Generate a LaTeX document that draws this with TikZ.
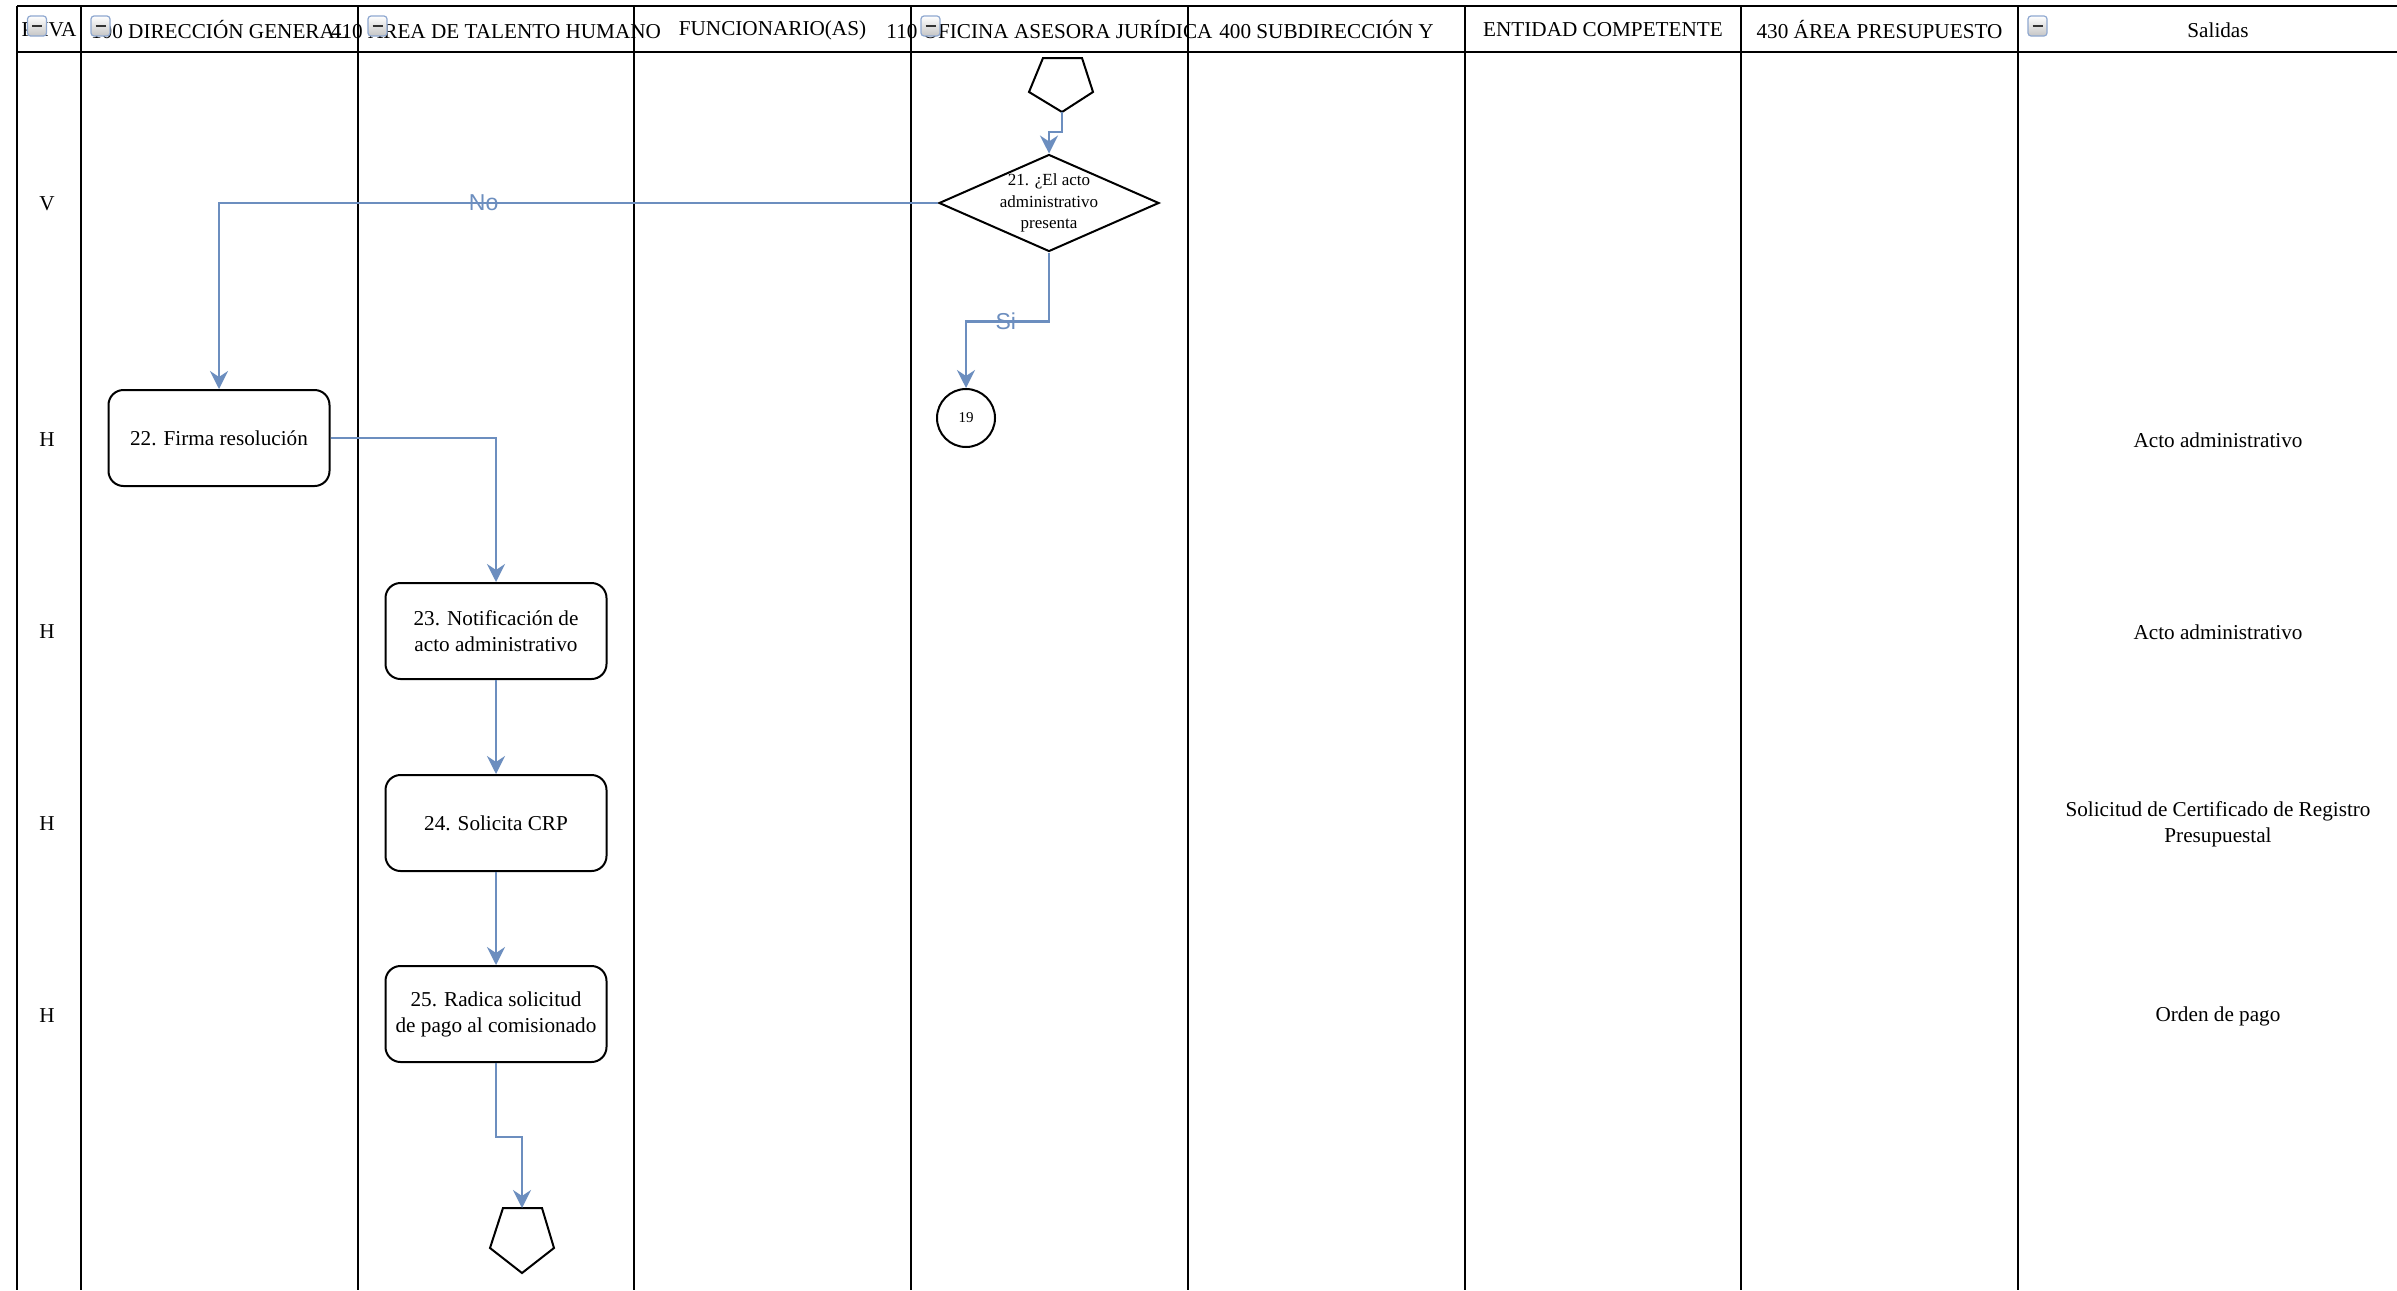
\documentclass[tikz,border=0pt]{standalone}
\usepackage{fontspec}
\setmainfont{Liberation Serif}
\newfontfamily\lblfont{Liberation Sans}
\usetikzlibrary{shapes.geometric,arrows.meta,calc}
\definecolor{connblue}{HTML}{6C8EBF}
\definecolor{iconblue}{HTML}{8FA8D0}
\begin{document}
\begin{tikzpicture}[x=0.5pt,y=-0.5pt,
  lane/.style={line width=1.4pt},
  thinlane/.style={line width=0.8pt},
  hline/.style={line width=1.2pt},
  hdr/.style={font=\fontsize{10.6}{12}\selectfont, inner sep=0},
  txt/.style={font=\fontsize{10.6}{13}\selectfont, inner sep=0, align=center},
  stepbox/.style={draw, line width=1pt, rounded corners=7.5pt, minimum width=110.5pt, minimum height=48pt, align=center, font=\fontsize{10.6}{13}\selectfont, inner sep=2pt},
  conn/.style={draw=connblue, line width=1.2pt, -{Stealth[length=9pt,width=9pt,inset=3pt]}},
  lbl/.style={font=\lblfont\fontsize{11.5}{13}\selectfont, text=connblue, inner sep=0},
  minusicon/.pic={
    \draw[draw=iconblue, line width=0.6pt, top color=white, bottom color=gray!45, rounded corners=1.5pt] (-9.5,-10) rectangle (9.5,10);
    \draw[line width=1.4pt, black!80] (-5,0) -- (5,0);
  }
]
\useasboundingbox (0,0) rectangle (2397,1290);
\fill[white] (0,0) rectangle (2397,1290);

% lane lines
\draw[thinlane] (17,6) -- (17,1290);
\draw[thinlane] (81,6) -- (81,1290);
\foreach \xx in {358,634,911,1188,1465,1741,2018}{
  \draw[lane] (\xx,6) -- (\xx,1290);
}
\draw[hline] (17,6) -- (2397,6);
\draw[hline] (17,52) -- (2397,52);

% header texts
\node[hdr] (h1) at (49,30) {PHVA};
\node[hdr] (h2) at (219.5,30) {100 DIRECCIÓN GENERAL};
\node[hdr] (h3) at (496,30) {410 ÁREA DE TALENTO HUMANO};
\node[hdr] (h4) at (772.5,30) {FUNCIONARIO(AS)};
\node[hdr] (h5) at (1049.5,30) {110 OFICINA ASESORA JURÍDICA};
\node[hdr] (h6) at (1326.5,30) {400 SUBDIRECCIÓN Y};
\node[hdr] (h7) at (1603,30) {ENTIDAD COMPETENTE};
\node[hdr] (h8) at (1879.5,30) {430 ÁREA PRESUPUESTO};
\node[hdr] (h9) at (2218,30) {Salidas};

% collapse icons
\pic at (37,26) {minusicon};
\pic at (100.5,26) {minusicon};
\pic at (377.5,26) {minusicon};
\pic at (930.5,26) {minusicon};
\pic at (2037.5,26) {minusicon};

% row labels
\node[txt] (r1) at (47,204) {V};
\node[txt] (r2) at (47,440) {H};
\node[txt] (r3) at (47,632) {H};
\node[txt] (r4) at (47,824) {H};
\node[txt] (r5) at (47,1016) {H};

% pentagons (off-page connectors)
\draw[line width=1pt, line join=miter] (1043,58) -- (1082,58) -- (1093,92) -- (1062,112) -- (1029,92) -- cycle;
\coordinate (p1tip) at (1062,112);
\draw[line width=1pt, line join=miter] (503,1208) -- (542,1208) -- (554,1248) -- (522,1273) -- (490,1248) -- cycle;
\coordinate (p2top) at (522,1208);

% decision
\node[diamond, draw, line width=1pt, minimum width=110pt, minimum height=48.5pt, inner sep=0] (d21) at (1049,203) {};
\node[font=\fontsize{8.5}{10.7}\selectfont, align=center, inner sep=0] (d21t) at (d21.center) {21. ¿El acto\\administrativo\\presenta};

% connector circle
\node[circle, draw, line width=1pt, minimum size=29pt, inner sep=0, font=\fontsize{7.5}{9}\selectfont] (c19) at (966,418) {19};

% process boxes
\node[stepbox] (n22) at (219,438) {22. Firma resolución};
\node[stepbox] (n23) at (496,631) {23. Notificación de\\acto administrativo};
\node[stepbox] (n24) at (496,823) {24. Solicita CRP};
\node[stepbox] (n25) at (496,1014) {25. Radica solicitud\\de pago al comisionado};

% outputs
\node[txt] (s1) at (2218,440) {Acto administrativo};
\node[txt] (s2) at (2218,632) {Acto administrativo};
\node[txt] (s3) at (2218,824) {Solicitud de Certificado de Registro\\Presupuestal};
\node[txt] (s4) at (2218,1016) {Orden de pago};

% connectors
\draw[conn] (p1tip) -- ++(0,20) -| (d21.north);
\draw[conn] (d21.west) -| node[lbl, pos=0.316] (lno) {No} (n22.north);
\draw[conn] (d21.south) -- ++(0,69) -| node[lbl, pos=0.26] (lsi) {Si} (c19.north);
\draw[conn] (n22.east) -| (n23.north);
\draw[conn] (n23) -- (n24);
\draw[conn] (n24) -- (n25);
\draw[conn] (n25.south) -- ++(0,74) -| (p2top);
\end{tikzpicture}
\end{document}
